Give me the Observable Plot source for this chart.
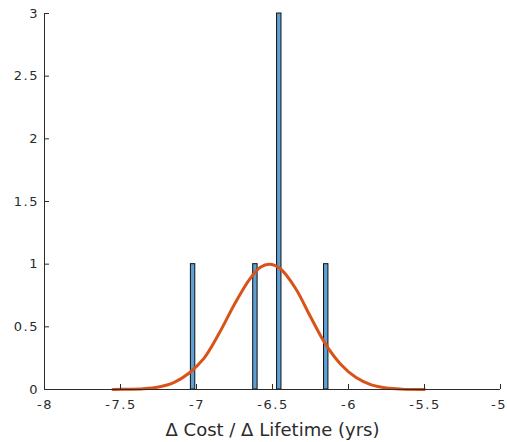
<!DOCTYPE html>
<html>
<head>
<meta charset="utf-8">
<script src="https://cdn.jsdelivr.net/npm/d3@7"></script>
<script src="https://cdn.jsdelivr.net/npm/@observablehq/plot@0.6"></script>
<style>
  html, body { margin: 0; padding: 0; background: #fff; }
  #chart { width: 507px; height: 442px; }
  .ticklab text { letter-spacing: 1.5px; }
</style>
</head>
<body>
<div id="chart"></div>
<script>
// Histogram bins
const binLeft  = [-7.037, -6.627, -6.470, -6.161];
const binRight = [-7.008, -6.598, -6.441, -6.132];
const counts   = [1, 1, 3, 1];

// Fitted curve points
const curveX = [-7.55, -7.45, -7.35, -7.25, -7.15, -7.05, -6.95, -6.85, -6.75, -6.65, -6.58, -6.52, -6.45, -6.35, -6.25, -6.15, -6.05, -5.95, -5.85, -5.75, -5.65, -5.50];
const curveY = [0.0, 0.002, 0.006, 0.02, 0.055, 0.13, 0.25, 0.45, 0.68, 0.88, 0.975, 1.0, 0.965, 0.81, 0.58, 0.36, 0.2, 0.095, 0.037, 0.012, 0.003, 0.0];

const xTicks = [-8, -7.5, -7, -6.5, -6, -5.5, -5];
const yTicks = [0, 0.5, 1, 1.5, 2, 2.5, 3];
const xLabel = "\u0394 Cost / \u0394 Lifetime (yrs)";

const bars = counts.map((c, i) => ({x1: binLeft[i], x2: binRight[i], y: c}));
const curve = curveX.map((x, i) => ({x, y: curveY[i]}));

const ink = "#2b2b2b";
const fmt = d => String(d);
const xInner = xTicks.slice(0, -1);
const xLast = xTicks.slice(-1);

const chart = Plot.plot({
  width: 507,
  height: 442,
  marginLeft: 44,
  marginRight: 7,
  marginTop: 13,
  marginBottom: 53,
  style: {fontFamily: "DejaVu Sans, sans-serif", fontSize: "13px", color: ink, background: "#fff"},
  x: {domain: [-8, -5]},
  y: {domain: [0, 3]},
  marks: [
    Plot.rectY(bars, {x1: "x1", x2: "x2", y: "y", fill: "#5e9fd4", stroke: "#111", strokeWidth: 1}),
    Plot.line(curve, {x: "x", y: "y", stroke: "#D95319", strokeWidth: 3, curve: "catmull-rom"}),
    Plot.ruleY([0], {stroke: ink, strokeWidth: 1}),
    Plot.ruleX([-8], {stroke: ink, strokeWidth: 1}),
    Plot.axisX({ticks: xTicks, tickSize: -5, text: null, stroke: ink, label: null}),
    Plot.axisX({ticks: xInner, tickSize: 0, tickPadding: 10, dx: 0.5, fontSize: 13, fill: ink, label: null, tickFormat: fmt, className: "ticklab"}),
    Plot.axisX({ticks: xLast, tickSize: 0, tickPadding: 10, dx: 6.5, textAnchor: "end", fontSize: 13, fill: ink, label: null, tickFormat: fmt, className: "ticklab"}),
    Plot.axisY({ticks: yTicks, tickSize: -5, text: null, stroke: ink, label: null}),
    Plot.axisY({ticks: yTicks, tickSize: 0, tickPadding: 5.5, fontSize: 13, fill: ink, label: null, tickFormat: fmt, className: "ticklab"}),
    Plot.text([xLabel], {frameAnchor: "bottom", lineAnchor: "middle", dy: 41, fontSize: 18, fill: ink})
  ]
});
document.getElementById("chart").appendChild(chart);
</script>
</body>
</html>
